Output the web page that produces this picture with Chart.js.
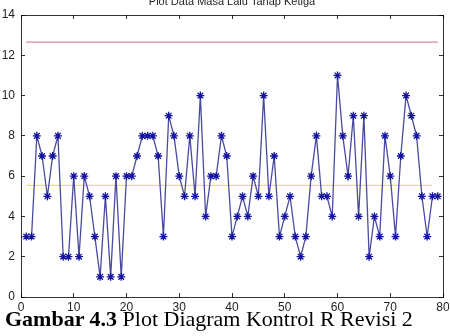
<!DOCTYPE html>
<html>
<head>
<meta charset="utf-8">
<script src="https://cdn.jsdelivr.net/npm/chart.js@4/dist/chart.umd.min.js"></script>
<style>
  body { margin: 0; background: #fff; }
  #wrap { position: relative; width: 450px; height: 336px; }
  #caption {
    position: absolute; left: 5px; top: 308px;
    font-family: "Liberation Serif", "Times New Roman", serif;
    font-size: 22px; line-height: 22px; color: #000; white-space: nowrap;
  }
</style>
</head>
<body>
<div id="wrap">
  <canvas id="myChart" width="450" height="336"></canvas>
  <div id="caption"><b>Gambar 4.3</b> Plot Diagram Kontrol R Revisi 2</div>
</div>
<script>
const title = 'Plot Data Masa Lalu Tahap Ketiga';
const samples = [1,2,3,4,5,6,7,8,9,10,11,12,13,14,15,16,17,18,19,20,
  21,22,23,24,25,26,27,28,29,30,31,32,33,34,35,36,37,38,39,40,
  41,42,43,44,45,46,47,48,49,50,51,52,53,54,55,56,57,58,59,60,
  61,62,63,64,65,66,67,68,69,70,71,72,73,74,75,76,77,78,79];
const rangeValues = [3,3,8,7,5,7,8,2,2,6, 2,6,5,3,1,5,1,6,1,6,
  6,7,8,8,8,7,3,9,8,6, 5,8,5,10,4,6,6,8,7,3,
  4,5,4,6,5,10,5,7,3,4, 5,3,2,3,6,8,5,5,4,11,
  8,6,9,4,9,2,4,3,8,6, 3,7,10,9,8,5,3,5,5];
const ucl = 12.65;
const rbar = 5.544;
const uclSpan = [1, 79];
const rbarSpan = [1, 78];

const font = { family: '"Liberation Sans", Arial, sans-serif', size: 12 };
// matlab-like box: border on all four sides, short ticks pointing inwards
const boxGrid = { display: true, drawOnChartArea: false, drawTicks: true, tickLength: -4, color: 'rgba(0,0,0,0.8)', lineWidth: 1 };
const boxBorder = { display: true, color: 'rgba(0,0,0,0.8)', width: 1 };

const titlePlugin = {
  id: 'topTitle',
  afterDraw(chart) {
    const c = chart.ctx;
    const a = chart.chartArea;
    c.save();
    c.fillStyle = '#222';
    c.font = '11px "Liberation Sans", Arial, sans-serif';
    c.textAlign = 'center';
    c.fillText(title, (a.left + a.right) / 2, 5);
    c.restore();
  }
};

new Chart(document.getElementById('myChart'), {
  type: 'line',
  data: {
    datasets: [
      {
        label: 'R',
        data: samples.map((s, i) => ({ x: s, y: rangeValues[i] })),
        borderColor: '#4a4aa0',
        borderWidth: 1.3,
        pointStyle: 'star',
        pointRadius: 4,
        pointBorderColor: '#1414a0',
        pointBorderWidth: 1.3,
        tension: 0,
        order: 0
      },
      {
        label: 'UCL',
        data: uclSpan.map(s => ({ x: s, y: ucl })),
        borderColor: '#cf8d97',
        borderWidth: 1.3,
        pointRadius: 0,
        order: 2
      },
      {
        label: 'Rbar',
        data: rbarSpan.map(s => ({ x: s, y: rbar })),
        borderColor: '#e6e65a',
        borderWidth: 1.2,
        pointRadius: 0,
        order: 1
      }
    ]
  },
  options: {
    responsive: false,
    animation: false,
    layout: { padding: { top: 15, right: 7, left: 0, bottom: 0 } },
    plugins: { legend: { display: false }, tooltip: { enabled: false }, title: { display: false } },
    scales: {
      x: {
        type: 'linear', position: 'bottom', min: 0, max: 80,
        grid: boxGrid, border: boxBorder,
        ticks: { stepSize: 10, padding: 7, color: '#222', maxRotation: 0, font },
        afterFit(scale) { scale.height = 39; scale.paddingLeft = 0; scale.paddingRight = 0; }
      },
      x2: {
        type: 'linear', position: 'top', min: 0, max: 80,
        grid: boxGrid, border: boxBorder,
        ticks: { stepSize: 10, display: false },
        afterFit(scale) { scale.height = 0; scale.paddingLeft = 0; scale.paddingRight = 0; }
      },
      y: {
        position: 'left', min: 0, max: 14,
        grid: boxGrid, border: boxBorder,
        ticks: { stepSize: 2, padding: 10, color: '#222', font },
        afterFit(scale) { scale.width = 21; scale.paddingTop = 0; scale.paddingBottom = 0; }
      },
      y2: {
        position: 'right', min: 0, max: 14,
        grid: boxGrid, border: boxBorder,
        ticks: { stepSize: 2, display: false },
        afterFit(scale) { scale.width = 0; scale.paddingTop = 0; scale.paddingBottom = 0; }
      }
    }
  },
  plugins: [titlePlugin]
});
</script>
</body>
</html>
